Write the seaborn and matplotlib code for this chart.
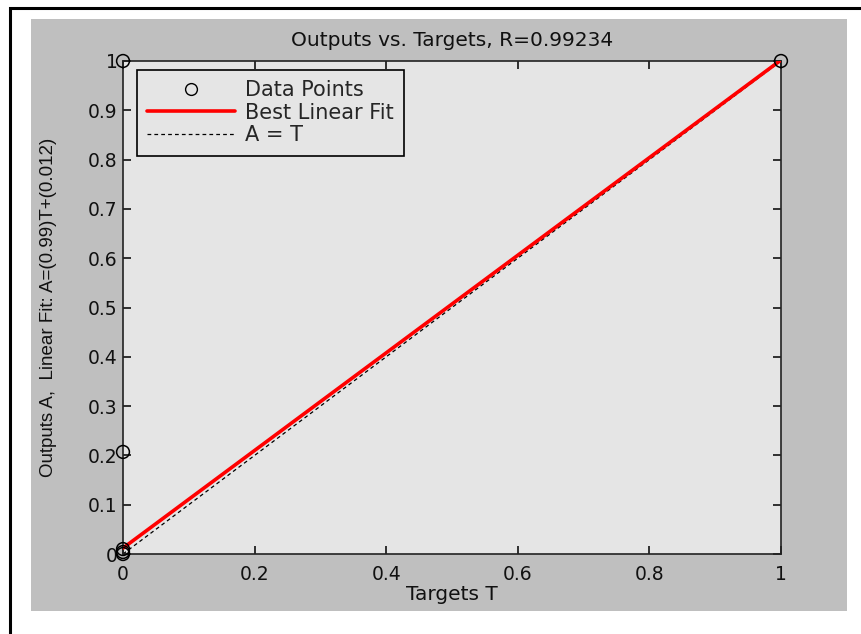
import matplotlib
matplotlib.use("Agg")
import matplotlib.pyplot as plt
from matplotlib.patches import Rectangle
from matplotlib.lines import Line2D
import seaborn as sns
import numpy as np
import pandas as pd

# Data
targets = [0.0, 0.0, 0.0, 0.0, 0.0, 1.0]
outputs = [0.0, 0.004, 0.01, 0.207, 1.0, 1.0]
fit_slope = 0.99
fit_intercept = 0.012
line_t = [0.0, 1.0]
title = "Outputs vs. Targets, R=0.99234"
xlabel = "Targets T"
ylabel = "Outputs A,  Linear Fit: A=(0.99)T+(0.012)"
ticks_x = [0, 0.2, 0.4, 0.6, 0.8, 1]
ticks_y = [0, 0.1, 0.2, 0.3, 0.4, 0.5, 0.6, 0.7, 0.8, 0.9, 1]

sns.set_style("ticks")
plt.rcParams['font.family'] = ['DejaVu Sans']
FS = 13.5

fig = plt.figure(figsize=(8.61, 6.34), dpi=100)
fig.patch.set_facecolor("white")
W, H = 861, 634
# outer black frame
fig.patches.append(Rectangle((10 / W, -0.2), 1.2, (634 - 8) / H + 0.2, transform=fig.transFigure,
                             fill=False, edgecolor="black", linewidth=2.2, zorder=-10))
# gray panel
fig.patches.append(Rectangle((31 / W, (634 - 611) / H), (847 - 31) / W, (611 - 19) / H,
                             transform=fig.transFigure, facecolor="#bfbfbf",
                             edgecolor="none", zorder=-9))

ax = fig.add_axes([123 / W, (634 - 554) / H, (781 - 123) / W, (554 - 61) / H])
ax.set_zorder(5)
ax.set_facecolor("#e5e5e5")

df_pts = pd.DataFrame({"T": targets, "A": outputs})
fit_vals = [fit_slope * t + fit_intercept for t in line_t]
df_fit = pd.DataFrame({"T": line_t, "A": fit_vals})
df_id = pd.DataFrame({"T": line_t, "A": line_t})

sns.lineplot(data=df_id, x="T", y="A", ax=ax, color="black", linestyle=(0, (3, 2.5)),
             linewidth=0.9, zorder=2)
sns.lineplot(data=df_fit, x="T", y="A", ax=ax, color="#ff0000", linewidth=2.6, zorder=3)
sns.scatterplot(data=df_pts, x="T", y="A", ax=ax, marker="o", s=85,
                facecolors="none", edgecolor="black", linewidth=1.1, zorder=4, clip_on=False)

ax.set_xlim(0, 1)
ax.set_ylim(0, 1)
ax.set_xticks(ticks_x)
ax.set_xticklabels([f"{t:g}" for t in ticks_x])
ax.set_yticks(ticks_y)
ax.set_yticklabels([f"{t:g}" for t in ticks_y])
ax.tick_params(direction="in", length=6, width=1.2, labelsize=FS, colors="#111111",
               top=True, right=True)
ax.tick_params(axis="x", pad=8)
ax.tick_params(axis="y", pad=4)
for s in ax.spines.values():
    s.set_visible(True)
    s.set_linewidth(1.2)
    s.set_color("#222222")

ax.set_title(title, fontsize=14.5, pad=11, color="#111111")
ax.set_xlabel(xlabel, fontsize=14.5, labelpad=1, color="#111111")
ax.set_ylabel(ylabel, fontsize=13.5, labelpad=22, color="#111111",
              family=['Liberation Sans Narrow', 'Liberation Sans', 'DejaVu Sans'])

handles = [
    Line2D([], [], marker="o", linestyle="none", markerfacecolor="none",
           markeredgecolor="black", markersize=8.5, markeredgewidth=1.0),
    Line2D([], [], color="#ff0000", linewidth=2.6),
    Line2D([], [], color="black", linestyle=(0, (3, 2.5)), linewidth=0.9),
]
leg = ax.legend(handles, ["Data Points", "Best Linear Fit", "A = T"], loc="upper left",
                bbox_to_anchor=(0.021, 0.982), fontsize=15, handlelength=4.2,
                fancybox=False, framealpha=1, facecolor="#e5e5e5", edgecolor="black",
                borderpad=0.5, labelspacing=0.12, handletextpad=0.5, borderaxespad=0)
leg.get_frame().set_linewidth(1.2)

fig.savefig("out.png", dpi=100)
